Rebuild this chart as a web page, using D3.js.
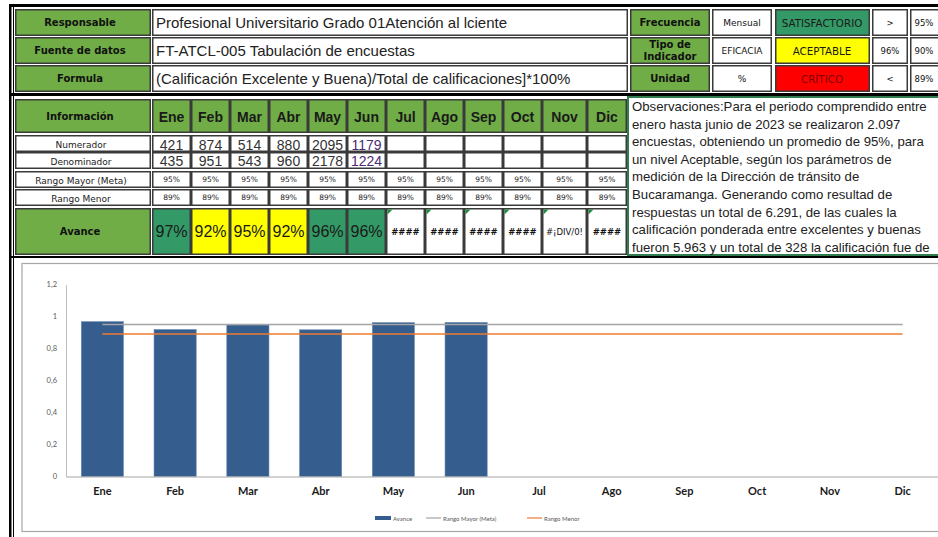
<!DOCTYPE html>
<html>
<head>
<meta charset="utf-8">
<script src="https://cdn.jsdelivr.net/npm/d3@7"></script>
<style>
  body { margin: 0; background: #fff; }
  svg { display: block; }
</style>
</head>
<body>
<svg width="938" height="537"></svg>
<script>
// ---- data ----
var months = ["Ene", "Feb", "Mar", "Abr", "May", "Jun", "Jul", "Ago", "Sep", "Oct", "Nov", "Dic"];
var numerador = [421, 874, 514, 880, 2095, 1179];
var denominador = [435, 951, 543, 960, 2178, 1224];
var avance = [0.968, 0.919, 0.947, 0.917, 0.962, 0.963];
var avanceLabels = ["97%", "92%", "95%", "92%", "96%", "96%", "####", "####", "####", "####", "#¡DIV/0!", "####"];
var rangoMayor = [0.95, 0.95, 0.95, 0.95, 0.95, 0.95, 0.95, 0.95, 0.95, 0.95, 0.95, 0.95];
var rangoMenor = [0.89, 0.89, 0.89, 0.89, 0.89, 0.89, 0.89, 0.89, 0.89, 0.89, 0.89, 0.89];
var yTicks = [0, 0.2, 0.4, 0.6, 0.8, 1, 1.2];

var headLabels = ["Responsable", "Fuente de datos", "Formula"];
var headValues = ["Profesional Universitario Grado 01Atención al lciente",
  "FT-ATCL-005 Tabulación de encuestas",
  "(Calificación Excelente y Buena)/Total de calificaciones]*100%"];
var sideLabels = [["Frecuencia"], ["Tipo de", "Indicador"], ["Unidad"]];
var sideValues = ["Mensual", "EFICACIA", "%"];
var levels = ["SATISFACTORIO", "ACEPTABLE", "CRÍTICO"];
var levelSigns = [">", "96%", "<"];
var levelLimits = ["95%", "90%", "89%"];
var rowLabels = ["Numerador", "Denominador", "Rango Mayor (Meta)", "Rango Menor"];
var observaciones = [
  "Observaciones:Para el periodo comprendido entre",
  "enero hasta junio de 2023 se realizaron 2.097",
  "encuestas, obteniendo un promedio de 95%, para",
  "un nivel Aceptable, según los parámetros de",
  "medición de la Dirección de tránsito de",
  "Bucaramanga. Generando como resultad de",
  "respuestas un total de 6.291, de las cuales la",
  "calificación ponderada entre excelentes y buenas",
  "fueron 5.963 y un total de 328 la calificación fue de"
];

var green = "#70ad47", teal = "#339966", yellow = "#ffff00", red = "#ff0000";
var levelFill = [teal, yellow, red];
var levelText = ["#1a1a1a", "#1a1a1a", "#800000"];

var svg = d3.select("svg");
var labelFont = "bold 10px 'DejaVu Sans', sans-serif";

function cell(x, y, w, h, fill) {
  return svg.append("rect")
    .attr("x", x + 0.75).attr("y", y + 0.75)
    .attr("width", w - 1.5).attr("height", h - 1.5)
    .attr("fill", fill || "#fff")
    .attr("stroke", "#3a3a3a").attr("stroke-width", 1.5);
}

function label(x, y, txt, font, color, anchor) {
  return svg.append("text")
    .attr("x", x).attr("y", y)
    .attr("text-anchor", anchor || "middle")
    .attr("dominant-baseline", "central")
    .style("font", font)
    .attr("fill", color || "#111")
    .text(txt);
}

// ---- frame ----
svg.append("rect").attr("x", 9).attr("y", 4).attr("width", 929).attr("height", 3).attr("fill", "#000");
svg.append("rect").attr("x", 9).attr("y", 4).attr("width", 2.5).attr("height", 533).attr("fill", "#000");
svg.append("rect").attr("x", 13).attr("y", 4).attr("width", 1).attr("height", 533).attr("fill", "#000");
svg.append("rect").attr("x", 9).attr("y", 93).attr("width", 929).attr("height", 3).attr("fill", "#000");
svg.append("rect").attr("x", 9).attr("y", 256).attr("width", 929).attr("height", 2).attr("fill", "#000");

// ---- top block ----
var rowTop = [9, 37, 65], rowH = 27;
headLabels.forEach(function(t, i) {
  var y = rowTop[i];
  cell(15, y, 136, rowH, green);
  label(80, y + rowH / 2, t, labelFont);
  cell(152, y, 476, rowH);
  label(156, y + rowH / 2, headValues[i], "15px 'Liberation Sans', Arial, sans-serif", "#222", "start");
  cell(630, y, 80, rowH, green);
  if (sideLabels[i].length === 1) {
    label(670, y + rowH / 2, sideLabels[i][0], labelFont);
  } else {
    label(670, y + rowH / 2 - 6, sideLabels[i][0], labelFont);
    label(670, y + rowH / 2 + 6, sideLabels[i][1], labelFont);
  }
  cell(712, y, 60, rowH);
  label(742, y + rowH / 2, sideValues[i], "9px 'DejaVu Sans', sans-serif", "#111");
  cell(775, y, 95, rowH, levelFill[i]);
  label(822, y + rowH / 2, levels[i], "10.3px 'DejaVu Sans', sans-serif", levelText[i]);
  cell(872, y, 36, rowH);
  label(890, y + rowH / 2, levelSigns[i], "8.5px 'DejaVu Sans', sans-serif", "#111");
  cell(910, y, 40, rowH);
  label(924, y + rowH / 2, levelLimits[i], "8.5px 'DejaVu Sans', sans-serif", "#111");
});

// ---- monthly table ----
var colW = [39, 39, 39, 39, 39, 39, 39, 39, 39, 39, 45, 40];
var colX = [];
colW.reduce(function(acc, w) { colX.push(acc); return acc + w; }, 152);

var tRows = [
  { y: 99, h: 34 },   // header
  { y: 135, h: 17 },  // numerador
  { y: 152, h: 17 },  // denominador
  { y: 171, h: 17 },  // rango mayor
  { y: 189, h: 17 },  // rango menor
  { y: 208, h: 47 }   // avance
];

cell(15, tRows[0].y, 136, tRows[0].h, green);
label(80, tRows[0].y + tRows[0].h / 2, "Información", labelFont);
rowLabels.forEach(function(t, i) {
  var r = tRows[i + 1];
  cell(15, r.y, 136, r.h);
  label(81, r.y + r.h / 2 + 1, t, "9px 'DejaVu Sans', sans-serif", "#222");
});
cell(15, tRows[5].y, 136, tRows[5].h, green);
label(80, tRows[5].y + tRows[5].h / 2, "Avance", labelFont);

var levelColor = function(v) { return v >= 0.95 ? teal : v >= 0.89 ? yellow : red; };

months.forEach(function(m, i) {
  var x = colX[i], w = colW[i], cx = x + w / 2;
  cell(x, tRows[0].y, w, tRows[0].h, green);
  label(cx, tRows[0].y + tRows[0].h / 2 + 1, m, "bold 14px 'Liberation Sans', Arial, sans-serif", "#1a1a1a");

  cell(x, tRows[1].y, w, tRows[1].h);
  if (i < numerador.length) label(cx, tRows[1].y + tRows[1].h / 2 + 1, numerador[i], "14px 'Liberation Sans', Arial, sans-serif", i === 5 ? "#4b2d73" : "#333");
  cell(x, tRows[2].y, w, tRows[2].h);
  if (i < denominador.length) label(cx, tRows[2].y + tRows[2].h / 2, denominador[i], "14px 'Liberation Sans', Arial, sans-serif", i === 5 ? "#4b2d73" : "#333");

  cell(x, tRows[3].y, w, tRows[3].h);
  label(cx, tRows[3].y + tRows[3].h / 2, d3.format(".0%")(rangoMayor[i]), "7.5px 'DejaVu Sans', sans-serif", "#222");
  cell(x, tRows[4].y, w, tRows[4].h);
  label(cx, tRows[4].y + tRows[4].h / 2, d3.format(".0%")(rangoMenor[i]), "7.5px 'DejaVu Sans', sans-serif", "#222");

  var has = i < avance.length;
  cell(x, tRows[5].y, w, tRows[5].h, has ? levelColor(avance[i]) : "#fff");
  if (has) {
    label(cx, tRows[5].y + tRows[5].h / 2, avanceLabels[i], "16px 'Liberation Sans', Arial, sans-serif", "#1a1a1a");
  } else {
    label(cx, tRows[5].y + tRows[5].h / 2, avanceLabels[i], (i === 10 ? "" : "bold ") + "8.5px 'DejaVu Sans', sans-serif", "#111");
    svg.append("path")
      .attr("d", "M" + (x + 1.5) + "," + (tRows[5].y + 1.5) + "h5l-5,5z")
      .attr("fill", "#1e8a3c");
  }
});

// ---- observaciones ----
svg.append("rect")
  .attr("x", 628).attr("y", 97).attr("width", 312).attr("height", 158)
  .attr("fill", "#fff").attr("stroke", "#2f7d4f").attr("stroke-width", 2);
svg.append("text")
  .style("font", "13.2px 'Liberation Sans', Arial, sans-serif")
  .attr("fill", "#222")
  .selectAll("tspan").data(observaciones).join("tspan")
  .attr("x", 632)
  .attr("y", function(d, i) { return 111 + i * 17.6; })
  .text(function(d) { return d; });

// ---- chart ----
svg.append("rect")
  .attr("x", 22).attr("y", 263.5).attr("width", 925).attr("height", 268)
  .attr("fill", "#fff").attr("stroke", "#a6a6a6").attr("stroke-width", 1.2);

var x = d3.scaleBand().domain(months).range([66, 939]).paddingInner(0.42).paddingOuter(0.21);
var y = d3.scaleLinear().domain([0, 1.2]).range([476.5, 284.5]);
var comma = d3.formatLocale({ decimal: ",", thousands: ".", grouping: [3], currency: ["$", ""] }).format("~g");

var yAxis = svg.append("g")
  .attr("transform", "translate(66,0)")
  .call(d3.axisLeft(y).tickValues(yTicks).tickSize(0).tickPadding(9).tickFormat(comma));
yAxis.select(".domain").attr("stroke", "#bfbfbf");
yAxis.selectAll("text").style("font", "7.5px Lato, sans-serif").attr("fill", "#595959");

svg.selectAll(".bar").data(avance).join("rect")
  .attr("class", "bar")
  .attr("x", function(d, i) { return x(months[i]); })
  .attr("y", function(d) { return y(d); })
  .attr("width", x.bandwidth())
  .attr("height", function(d) { return y(0) - y(d); })
  .attr("fill", "#355d8e")
  .attr("stroke", "#6f8fb5").attr("stroke-width", 0.6);

var line = d3.line()
  .x(function(d, i) { return x(months[i]) + x.bandwidth() / 2; })
  .y(function(d) { return y(d); });

svg.append("path").datum(rangoMayor).attr("d", line)
  .attr("fill", "none").attr("stroke", "#a5a5a5").attr("stroke-width", 1.5);
svg.append("path").datum(rangoMenor).attr("d", line)
  .attr("fill", "none").attr("stroke", "#ed7d31").attr("stroke-width", 1.5);

var xAxis = svg.append("g")
  .attr("transform", "translate(0," + y(0) + ")")
  .call(d3.axisBottom(x).tickSize(0).tickPadding(11));
xAxis.select(".domain").attr("stroke", "#a6a6a6").attr("stroke-width", 1.2);
xAxis.selectAll("text").style("font", "bold 11px Lato, sans-serif").attr("fill", "#1a1a1a");

// legend
var legend = [
  { name: "Avance", x: 375, type: "bar", color: "#355d8e" },
  { name: "Rango Mayor (Meta)", x: 426, type: "line", color: "#a5a5a5" },
  { name: "Rango Menor", x: 527, type: "line", color: "#ed7d31" }
];
var lg = svg.append("g").selectAll("g").data(legend).join("g")
  .attr("transform", function(d) { return "translate(" + d.x + ",518)"; });
lg.append("rect")
  .attr("x", 0).attr("y", function(d) { return d.type === "bar" ? -2 : -0.6; })
  .attr("width", function(d) { return d.type === "bar" ? 16 : 15; })
  .attr("height", function(d) { return d.type === "bar" ? 4 : 1.2; })
  .attr("fill", function(d) { return d.color; });
lg.append("text")
  .attr("x", function(d) { return d.type === "bar" ? 18 : 17; })
  .attr("dominant-baseline", "central")
  .style("font", "6px Lato, sans-serif").attr("fill", "#595959")
  .text(function(d) { return d.name; });
</script>
</body>
</html>
